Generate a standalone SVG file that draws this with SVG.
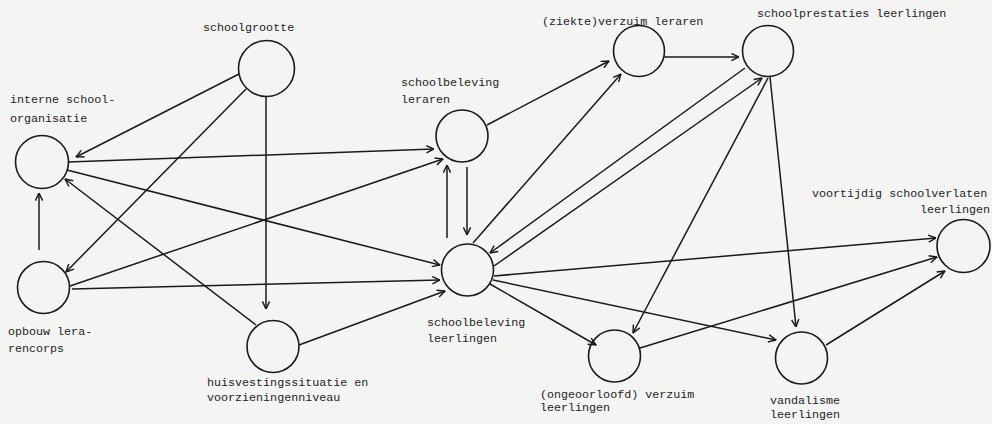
<svg xmlns="http://www.w3.org/2000/svg" width="992" height="424" viewBox="0 0 992 424">
<style>
.node circle{fill:none;stroke:#1a1a1a;stroke-width:1.6}
.lbl{font-family:"Liberation Mono","DejaVu Sans Mono",monospace;font-size:11.7px;fill:#1e1e1e}
#connectors line{stroke:#1a1a1a;stroke-width:1.5;fill:none}
.arr{marker-end:url(#ah)}
</style>
<defs>
<marker id="ah" viewBox="0 0 10 10" refX="9.5" refY="5" markerWidth="9" markerHeight="9" markerUnits="userSpaceOnUse" orient="auto">
<path d="M1,1 L9.5,5 L1,9" fill="none" stroke="#1a1a1a" stroke-width="1.6"/>
</marker>
</defs>
<rect width="992" height="424" fill="#f4f4f2"/>
<g id="connectors">
<line class="arr" x1="239" y1="74" x2="76" y2="157"/>
<line class="arr" x1="246" y1="89" x2="66" y2="272"/>
<line class="arr" x1="266" y1="97" x2="266" y2="309"/>
<line class="arr" x1="68" y1="162" x2="434" y2="149"/>
<line class="arr" x1="67" y1="170" x2="440" y2="265"/>
<line class="arr" x1="39" y1="250" x2="39" y2="193"/>
<line class="arr" x1="256" y1="325" x2="65" y2="179"/>
<line class="arr" x1="70" y1="286" x2="443" y2="159"/>
<line class="arr" x1="72" y1="289" x2="440" y2="280"/>
<line class="arr" x1="299" y1="345" x2="445" y2="291"/>
<line class="arr" x1="447" y1="238" x2="447" y2="165"/>
<line class="arr" x1="467" y1="167" x2="467" y2="235"/>
<line class="arr" x1="487" y1="125" x2="609" y2="61"/>
<line class="arr" x1="473" y1="243" x2="621" y2="74"/>
<line class="arr" x1="664" y1="57" x2="739" y2="57"/>
<line class="arr" x1="745" y1="68" x2="490" y2="253"/>
<line class="arr" x1="494" y1="266" x2="762" y2="78"/>
<line class="arr" x1="768" y1="78" x2="633" y2="333"/>
<line class="arr" x1="770" y1="77" x2="796" y2="327"/>
<line class="arr" x1="494" y1="276" x2="936" y2="238"/>
<line class="arr" x1="493" y1="280" x2="776" y2="340"/>
<line class="arr" x1="490" y1="284" x2="596" y2="345"/>
<line class="arr" x1="640" y1="348" x2="937" y2="257"/>
<line class="arr" x1="826" y1="345" x2="945" y2="271"/>
</g>
<g id="schoolgrootte" class="node">
<circle cx="266.5" cy="68.5" r="28"/>
<text class="lbl" x="203" y="31">schoolgrootte</text>
</g>
<g id="interne-schoolorganisatie" class="node">
<circle cx="42" cy="162" r="26.5"/>
<text class="lbl" x="10" y="103">interne school-</text>
<text class="lbl" x="10" y="122">organisatie</text>
</g>
<g id="opbouw-lerarencorps" class="node">
<circle cx="43.5" cy="287.5" r="26"/>
<text class="lbl" x="8" y="335">opbouw lera-</text>
<text class="lbl" x="8" y="352">rencorps</text>
</g>
<g id="huisvestingssituatie" class="node">
<circle cx="273" cy="346.5" r="26"/>
<text class="lbl" x="207" y="386">huisvestingssituatie en</text>
<text class="lbl" x="207" y="401">voorzieningenniveau</text>
</g>
<g id="schoolbeleving-leraren" class="node">
<circle cx="462" cy="136" r="26"/>
<text class="lbl" x="401" y="86">schoolbeleving</text>
<text class="lbl" x="401" y="103">leraren</text>
</g>
<g id="schoolbeleving-leerlingen" class="node">
<circle cx="467.5" cy="270" r="26"/>
<text class="lbl" x="427" y="326">schoolbeleving</text>
<text class="lbl" x="427" y="342">leerlingen</text>
</g>
<g id="ziekteverzuim-leraren" class="node">
<circle cx="639" cy="51" r="25.5"/>
<text class="lbl" x="542" y="25">(ziekte)verzuim leraren</text>
</g>
<g id="schoolprestaties-leerlingen" class="node">
<circle cx="768" cy="51" r="25.5"/>
<text class="lbl" x="757" y="17">schoolprestaties leerlingen</text>
</g>
<g id="voortijdig-schoolverlaten" class="node">
<circle cx="963.5" cy="246" r="26.5"/>
<text class="lbl" x="812" y="197">voortijdig schoolverlaten</text>
<text class="lbl" x="920" y="213">leerlingen</text>
</g>
<g id="ongeoorloofd-verzuim" class="node">
<circle cx="614.5" cy="356" r="26"/>
<text class="lbl" x="540" y="398">(ongeoorloofd) verzuim</text>
<text class="lbl" x="540" y="411">leerlingen</text>
</g>
<g id="vandalisme-leerlingen" class="node">
<circle cx="801.5" cy="358" r="26"/>
<text class="lbl" x="770" y="404">vandalisme</text>
<text class="lbl" x="770" y="418">leerlingen</text>
</g>
</svg>
